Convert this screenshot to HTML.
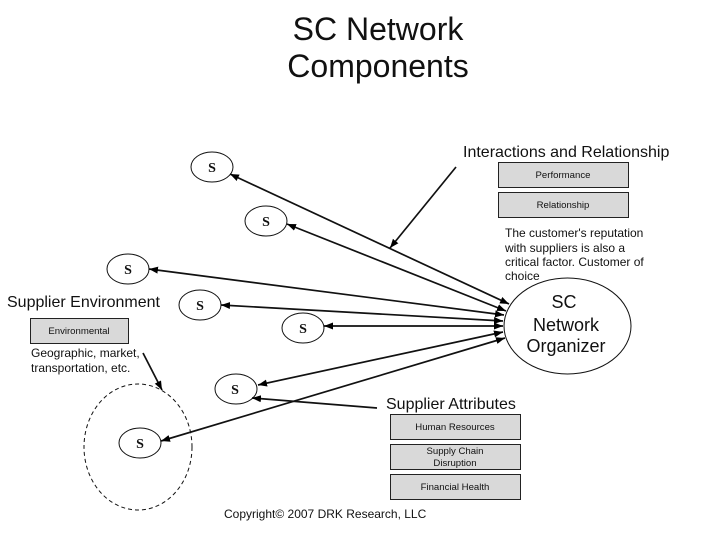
<!DOCTYPE html>
<html>
<head>
<meta charset="utf-8">
<style>
html,body{margin:0;padding:0;background:#fff;}
svg{display:block;}
text{font-family:"Liberation Sans",sans-serif;fill:#111;}
.s{font-family:"Liberation Serif",serif;font-weight:bold;font-size:14px;text-anchor:middle;}
.box{font-size:9.6px;text-anchor:middle;}
.sm{font-size:12px;}
.md{font-size:16px;}
.org{font-size:18px;text-anchor:middle;}
.title{font-size:32px;text-anchor:middle;}
</style>
</head>
<body>
<svg width="720" height="540" viewBox="0 0 720 540" xmlns="http://www.w3.org/2000/svg">
<defs>
<marker id="a" markerUnits="userSpaceOnUse" markerWidth="10" markerHeight="8" refX="9" refY="4" orient="auto-start-reverse"><path d="M0 0.5L9 4L0 7.5Z" fill="#000"/></marker>
</defs>
<rect width="720" height="540" fill="#fff"/>

<text class="title" x="378" y="40">SC Network</text>
<text class="title" x="378" y="77">Components</text>

<text class="md" x="463" y="157">Interactions and Relationship</text>
<text class="md" x="7" y="307">Supplier Environment</text>
<text class="md" x="386" y="409">Supplier Attributes</text>

<g fill="#d9d9d9" stroke="#222" stroke-width="1">
<rect x="498.500" y="162.500" width="130" height="25"/>
<rect x="498.500" y="192.500" width="130" height="25"/>
<rect x="30.500" y="318.500" width="98" height="25"/>
<rect x="390.500" y="414.500" width="130" height="25"/>
<rect x="390.500" y="444.500" width="130" height="25"/>
<rect x="390.500" y="474.500" width="130" height="25"/>
</g>
<text class="box" x="563" y="178">Performance</text>
<text class="box" x="563" y="208">Relationship</text>
<text class="box" x="79" y="334">Environmental</text>
<text class="box" x="455" y="430">Human Resources</text>
<text class="box" x="455" y="454">Supply Chain</text>
<text class="box" x="455" y="466">Disruption</text>
<text class="box" x="455" y="490">Financial Health</text>

<text class="sm" x="505" y="237">The customer's reputation</text>
<text class="sm" x="505" y="252">with suppliers is also a</text>
<text class="sm" x="505" y="266">critical factor. Customer of</text>
<text class="sm" x="505" y="280">choice</text>
<text class="sm" x="31" y="357">Geographic, market,</text>
<text class="sm" x="31" y="372">transportation, etc.</text>
<text class="sm" x="224" y="518">Copyright© 2007 DRK Research, LLC</text>

<g fill="none" stroke="#111" stroke-width="1">
<ellipse cx="212" cy="167" rx="21" ry="15"/>
<ellipse cx="266" cy="221" rx="21" ry="15"/>
<ellipse cx="128" cy="269" rx="21" ry="15"/>
<ellipse cx="200" cy="305" rx="21" ry="15"/>
<ellipse cx="303" cy="328" rx="21" ry="15"/>
<ellipse cx="236" cy="389" rx="21" ry="15"/>
<ellipse cx="140" cy="443" rx="21" ry="15"/>
<ellipse cx="138" cy="447" rx="54" ry="63" stroke-dasharray="4 3"/>
<ellipse cx="567.500" cy="326" rx="63.500" ry="48"/>
</g>
<text class="s" x="212" y="172">S</text>
<text class="s" x="266" y="226">S</text>
<text class="s" x="128" y="274">S</text>
<text class="s" x="200" y="310">S</text>
<text class="s" x="303" y="333">S</text>
<text class="s" x="235" y="394">S</text>
<text class="s" x="140" y="448">S</text>

<text class="org" x="564" y="308">SC</text>
<text class="org" x="566" y="331">Network</text>
<text class="org" x="566" y="352">Organizer</text>

<g stroke="#111" stroke-width="1.700" fill="none">
<line x1="230" y1="174" x2="509" y2="304" marker-start="url(#a)" marker-end="url(#a)"/>
<line x1="287" y1="224" x2="506" y2="311" marker-start="url(#a)" marker-end="url(#a)"/>
<line x1="149" y1="269" x2="504" y2="315" marker-start="url(#a)" marker-end="url(#a)"/>
<line x1="221" y1="305" x2="503" y2="321" marker-start="url(#a)" marker-end="url(#a)"/>
<line x1="324" y1="326" x2="503" y2="326" marker-start="url(#a)" marker-end="url(#a)"/>
<line x1="258" y1="385" x2="503" y2="332" marker-start="url(#a)" marker-end="url(#a)"/>
<line x1="161" y1="441" x2="505" y2="338" marker-start="url(#a)" marker-end="url(#a)"/>
<line x1="377" y1="408" x2="252" y2="398" marker-end="url(#a)"/>
<line x1="456" y1="167" x2="390" y2="248" marker-end="url(#a)"/>
<line x1="143" y1="353" x2="162" y2="390" marker-end="url(#a)"/>
</g>
</svg>
</body>
</html>
